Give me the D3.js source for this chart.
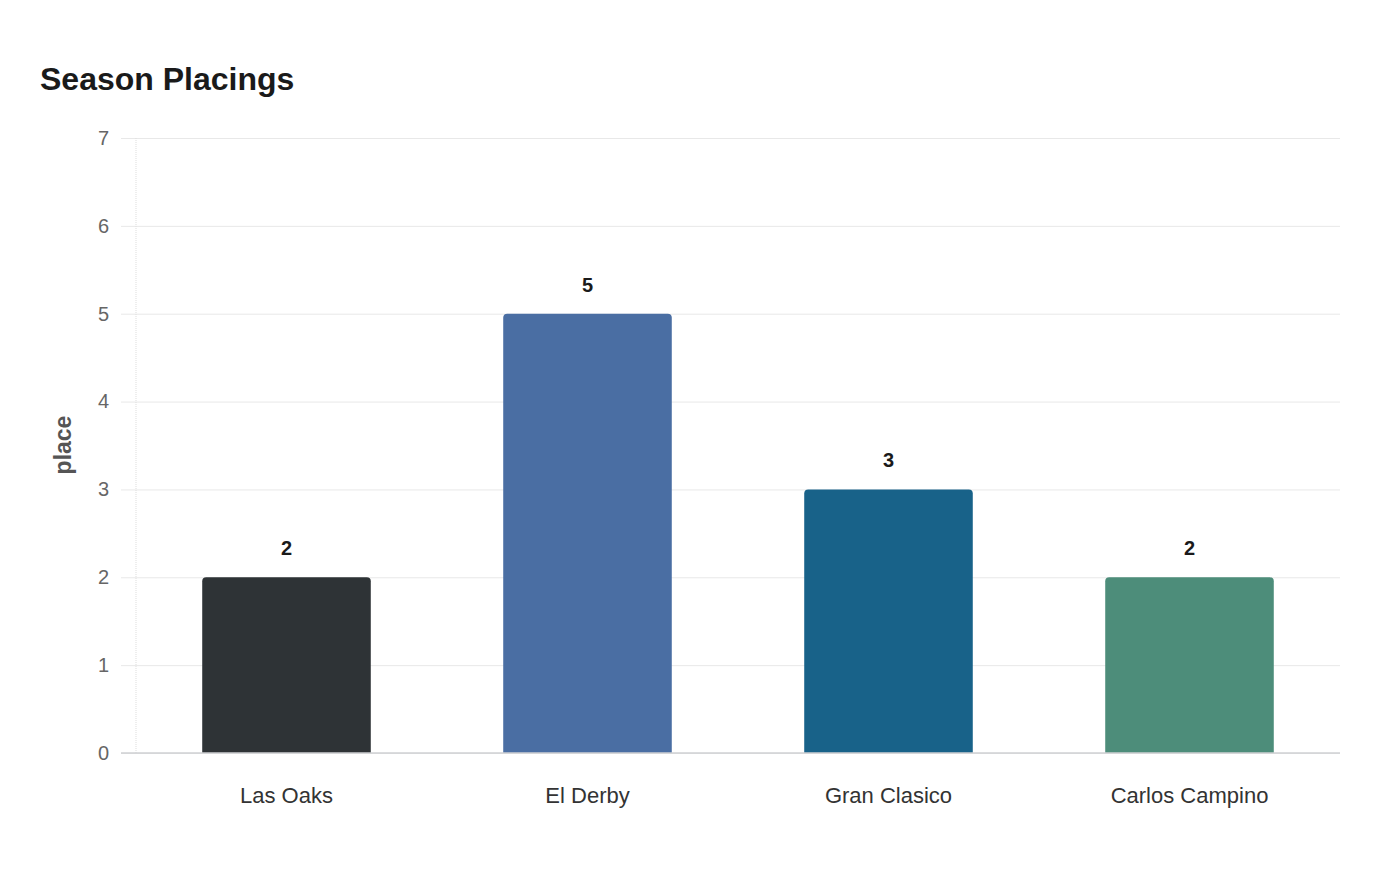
<!DOCTYPE html>
<html>
<head>
<meta charset="utf-8">
<script src="https://cdn.jsdelivr.net/npm/d3@7"></script>
<style>
  body { margin: 0; background: #fff; }
  svg text { font-family: "Liberation Sans", Arial, sans-serif; }
</style>
</head>
<body>
<svg width="1400" height="880"></svg>
<script>
const races = ["Las Oaks", "El Derby", "Gran Clasico", "Carlos Campino"];
const places = [2, 5, 3, 2];
const barColors = ["#2e3336", "#4a6ea3", "#186289", "#4d8d7a"];
const yTicks = [0, 1, 2, 3, 4, 5, 6, 7];

const svg = d3.select("svg");
const margin = { top: 138, right: 60, bottom: 127, left: 136 };
const width = 1400 - margin.left - margin.right;
const height = 880 - margin.top - margin.bottom;

svg.append("text")
  .attr("x", 40).attr("y", 90)
  .attr("font-size", 32).attr("font-weight", "bold")
  .attr("fill", "#1a1a1a")
  .text("Season Placings");

const g = svg.append("g").attr("transform", `translate(${margin.left},${margin.top})`);

const x = d3.scaleBand().domain(races).range([0, width]).paddingInner(0.44).paddingOuter(0.22);
const y = d3.scaleLinear().domain([0, 7]).range([height, 0]);

// gridlines + y ticks
const yAxis = g.append("g")
  .call(d3.axisLeft(y).tickValues(yTicks).tickFormat(d3.format("d")).tickSize(-width - 15));
yAxis.select(".domain").remove();
yAxis.selectAll(".tick line").attr("x1", -15).attr("x2", width).attr("stroke", "#e8e8e8");
yAxis.selectAll(".tick text")
  .attr("x", -27).attr("font-size", 20).attr("fill", "#666");

// vertical axis line
g.append("line")
  .attr("x1", 0).attr("x2", 0).attr("y1", 0).attr("y2", height)
  .attr("stroke", "#ddd").attr("stroke-dasharray", "1,1");

const barPath = (d, i) => {
  const x0 = x(races[i]), w = x.bandwidth();
  const y0 = y(d), r = 4;
  return `M${x0},${height}V${y0 + r}Q${x0},${y0} ${x0 + r},${y0}H${x0 + w - r}Q${x0 + w},${y0} ${x0 + w},${y0 + r}V${height}Z`;
};

g.selectAll(".bar")
  .data(places)
  .join("path")
  .attr("class", "bar")
  .attr("d", barPath)
  .attr("fill", (d, i) => barColors[i]);

g.selectAll(".val")
  .data(places)
  .join("text")
  .attr("class", "val")
  .attr("x", (d, i) => x(races[i]) + x.bandwidth() / 2)
  .attr("y", d => y(d) - 22)
  .attr("text-anchor", "middle")
  .attr("font-size", 20).attr("font-weight", "bold").attr("fill", "#1a1a1a")
  .text(d => d);

// x axis
const xAxis = g.append("g")
  .attr("transform", `translate(0,${height})`)
  .call(d3.axisBottom(x).tickSize(0).tickPadding(34));
xAxis.select(".domain").remove();
xAxis.selectAll(".tick text")
  .attr("font-size", 22).attr("fill", "#333");
g.append("line")
  .attr("x1", -15).attr("x2", width).attr("y1", height).attr("y2", height)
  .attr("stroke", "#cfd0d3").attr("stroke-width", 1.5);

// y label
svg.append("text")
  .attr("transform", "translate(71,445) rotate(-90)")
  .attr("text-anchor", "middle")
  .attr("font-size", 23).attr("font-weight", "bold").attr("fill", "#555")
  .text("place");
</script>
</body>
</html>
